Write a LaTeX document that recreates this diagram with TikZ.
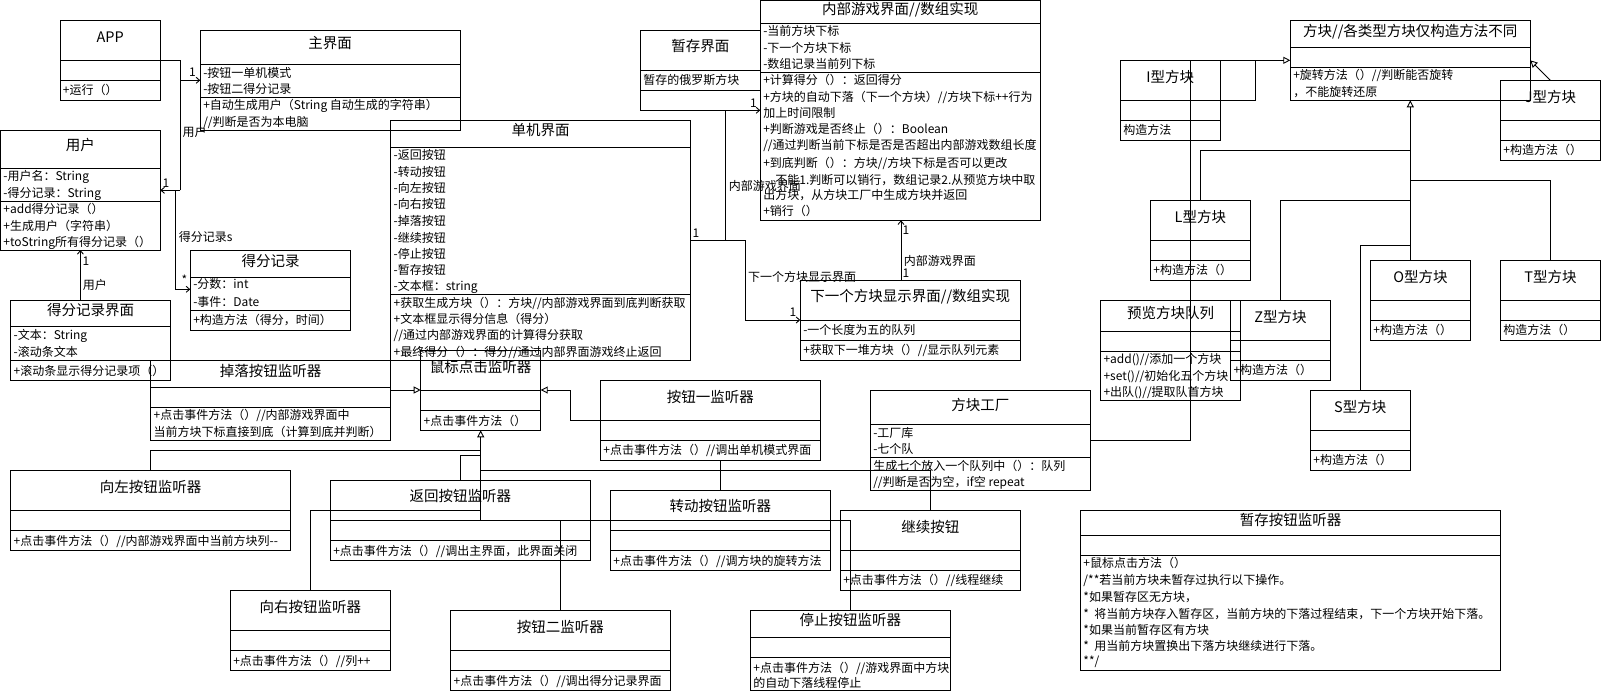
\documentclass[tikz,border=0pt]{standalone}
\usepackage{fontspec}
\setmainfont{Noto Sans CJK SC}
\usetikzlibrary{arrows.meta}

% class box: name, left, top, right, bottom, title line, attribute line
\newcommand\umlbox[7]{%
  \node[box, minimum width={(#4-#2)*1pt}, minimum height={(#5-#3)*1pt}, anchor=north west] (#1) at (#2,#3) {};
  \draw (#2,#6) -- (#4,#6) (#2,#7) -- (#4,#7);
}
% class name, centred on x, glyph centre at y
\newcommand\ttext[3]{\node[ttl, anchor=base] at (#1,{#2+5.5}) {#3};}
% one member row, box left edge x, glyph centre at y
\newcommand\mrow[3]{\node[bod, anchor=base west] at ({#1+2.5},{#2+4.5}) {#3};}
% free label centred at x,y
\newcommand\lbl[3]{\node[bod, anchor=base] at (#1,{#2+4.5}) {#3};}
\newcommand\lblw[3]{\node[bod, anchor=base west] at (#1,{#2+4.5}) {#3};}

\begin{document}
\begin{tikzpicture}[x=1pt, y=-1pt, line width=0.9pt,
  box/.style={draw, rectangle, inner sep=0pt, outer sep=0pt},
  ttl/.style={font=\fontsize{14.5}{17}\selectfont, inner sep=0pt},
  bod/.style={font=\fontsize{12}{14}\selectfont, inner sep=0pt},
  assoc/.style={-{Straight Barb[length=3.5pt,width=6pt]}},
  gen/.style={-{Triangle[open,length=7pt,width=7pt]}}]
\useasboundingbox (0,0) rectangle (1601,691);

% ---------------- application and menus ----------------
\umlbox{app}{60}{20.3}{160.3}{100}{60.3}{80.3}
\ttext{110.2}{37}{APP}
\mrow{60}{90}{+运行（）}

\umlbox{mainui}{200.3}{30.3}{460}{130}{64.3}{97.7}
\ttext{330}{43.3}{主界面}
\mrow{200.3}{72.7}{-按钮一单机模式}
\mrow{200.3}{89.3}{-按钮二得分记录}
\mrow{200.3}{105}{+自动生成用户（String 自动生成的字符串）}
\mrow{200.3}{122.3}{//判断是否为本电脑}

\umlbox{user}{0.5}{130.3}{160.3}{250}{168.3}{201.3}
\ttext{80.4}{145}{用户}
\mrow{0.5}{175.7}{-用户名：String}
\mrow{0.5}{192.7}{-得分记录：String}
\mrow{0.5}{209}{+add得分记录（）}
\mrow{0.5}{225.7}{+生成用户（字符串）}
\mrow{0.5}{242}{+toString所有得分记录（）}

\umlbox{scoreui}{10.7}{300.3}{170.3}{380.3}{326.3}{360.3}
\ttext{90.5}{310}{得分记录界面}
\mrow{10.7}{335}{-文本：String}
\mrow{10.7}{351.7}{-滚动条文本}
\mrow{10.7}{371}{+滚动条显示得分记录项（）}

\umlbox{scorerec}{190.3}{250.3}{350.7}{330.3}{277.3}{310.3}
\ttext{270.5}{260.7}{得分记录}
\mrow{190.3}{284.3}{-分数：int}
\mrow{190.3}{301.7}{-事件：Date}
\mrow{190.3}{320}{+构造方法（得分，时间）}

% ---------------- single player screen ----------------
\umlbox{single}{390.7}{120.3}{690.7}{360}{147.3}{294.3}
\ttext{540.7}{130}{单机界面}
\mrow{390.7}{155}{-返回按钮}
\mrow{390.7}{171.7}{-转动按钮}
\mrow{390.7}{188.3}{-向左按钮}
\mrow{390.7}{204.3}{-向右按钮}
\mrow{390.7}{221}{-掉落按钮}
\mrow{390.7}{237.7}{-继续按钮}
\mrow{390.7}{254}{-停止按钮}
\mrow{390.7}{270.3}{-暂存按钮}
\mrow{390.7}{285.7}{-文本框：string}
\mrow{390.7}{302.7}{+获取生成方块（）：方块//内部游戏界面到底判断获取}
\mrow{390.7}{319}{+文本框显示得分信息（得分）}
\mrow{390.7}{335.3}{//通过内部游戏界面的计算得分获取}
\mrow{390.7}{352.3}{+最终得分（）：得分//通过内部界面游戏终止返回}

\umlbox{holdui}{640.3}{30.3}{760.3}{110.3}{70.3}{90.3}
\ttext{700.3}{45.7}{暂存界面}
\mrow{640.3}{80.3}{暂存的俄罗斯方块}

\umlbox{inner}{760.3}{0.5}{1040.3}{220.3}{23.7}{72}
\ttext{900.3}{9}{内部游戏界面//数组实现}
\mrow{760.3}{31}{-当前方块下标}
\mrow{760.3}{48.3}{-下一个方块下标}
\mrow{760.3}{64.3}{-数组记录当前列下标}
\mrow{760.3}{80.3}{+计算得分（）：返回得分}
\mrow{760.3}{97}{+方块的自动下落（下一个方块）//方块下标++行为}
\mrow{760.3}{113.3}{加上时间限制}
\mrow{760.3}{129.3}{+判断游戏是否终止（）：Boolean}
\mrow{760.3}{145.3}{//通过判断当前下标是否是否超出内部游戏数组长度}
\mrow{760.3}{163}{+到底判断（）：方块//方块下标是否可以更改}
\mrow{772.5}{179.7}{不能1.判断可以销行，数组记录2.从预览方块中取}
\mrow{760.3}{195}{出方块，从方块工厂中生成方块并返回}
\mrow{760.3}{211.3}{+销行（）}

\umlbox{nextui}{800.3}{280.3}{1020.3}{360.7}{320.3}{340.7}
\ttext{910.3}{295.7}{下一个方块显示界面//数组实现}
\mrow{800.3}{330}{-一个长度为五的队列}
\mrow{800.3}{350}{+获取下一堆方块（）//显示队列元素}

% ---------------- listeners ----------------
\umlbox{lsndrop}{150.7}{360.7}{390.3}{440}{387}{407.3}
\ttext{270.5}{370.7}{掉落按钮监听器}
\mrow{150.7}{415}{+点击事件方法（）//内部游戏界面中}
\mrow{150.7}{432.3}{当前方块下标直接到底（计算到底并判断）}

\umlbox{mouse}{420.7}{350}{540.7}{430.3}{390}{410.7}
\ttext{480.7}{366.7}{鼠标点击监听器}
\mrow{420.7}{420.5}{+点击事件方法（）}

\umlbox{lsnbtn1}{600.4}{380.3}{820.4}{460}{420.3}{440.3}
\ttext{710.4}{396.7}{按钮一监听器}
\mrow{600.4}{450}{+点击事件方法（）//调出单机模式界面}

\umlbox{lsnleft}{10.7}{470.3}{290.3}{550.3}{510.3}{530.3}
\ttext{150.5}{486.7}{向左按钮监听器}
\mrow{10.7}{540.7}{+点击事件方法（）//内部游戏界面中当前方块列-{}-}

\umlbox{lsnback}{330.3}{480.3}{590.4}{560.3}{520.3}{540.3}
\ttext{460.4}{496}{返回按钮监听器}
\mrow{330.3}{550.5}{+点击事件方法（）//调出主界面，此界面关闭}

\umlbox{lsnrot}{610.5}{490.3}{830}{570.3}{530.3}{550.3}
\ttext{720.3}{505.7}{转动按钮监听器}
\mrow{610.5}{560.5}{+点击事件方法（）//调方块的旋转方法}

\umlbox{lsncont}{840.3}{510.3}{1020.3}{590.3}{550.3}{570.3}
\ttext{930.3}{526.7}{继续按钮}
\mrow{840.3}{580.3}{+点击事件方法（）//线程继续}

\umlbox{lsnright}{230.3}{590.3}{390.3}{670.3}{630.3}{650.3}
\ttext{310.3}{606.7}{向右按钮监听器}
\mrow{230.3}{660.7}{+点击事件方法（）//列++}

\umlbox{lsnbtn2}{450.7}{610.3}{670}{690.3}{650.3}{670.3}
\ttext{560.4}{627.3}{按钮二监听器}
\mrow{450.7}{681.3}{+点击事件方法（）//调出得分记录界面}

\umlbox{lsnstop}{750.4}{610.3}{950.4}{690}{637.7}{657.7}
\ttext{850.4}{620}{停止按钮监听器}
\mrow{750.4}{668}{+点击事件方法（）//游戏界面中方块}
\mrow{750.4}{683.3}{的自动下落线程停止}

\umlbox{lsnhold}{1080.5}{510.3}{1500.4}{670.3}{535.3}{555.3}
\ttext{1290.5}{520}{暂存按钮监听器}
\mrow{1080.5}{563}{+鼠标点击方法（）}
\mrow{1080.5}{580}{/**若当前方块未暂存过执行以下操作。}
\mrow{1080.5}{597}{*如果暂存区无方块，}
\mrow{1080.5}{614.3}{*\ \ 将当前方块存入暂存区，当前方块的下落过程结束，下一个方块开始下落。}
\mrow{1080.5}{630.3}{*如果当前暂存区有方块}
\mrow{1080.5}{645.7}{*\ \ 用当前方块置换出下落方块继续进行下落。}
\mrow{1080.5}{660.7}{**/}

% ---------------- blocks ----------------
\umlbox{factory}{870.3}{390.3}{1090.3}{490.3}{424}{457.7}
\ttext{980.3}{405}{方块工厂}
\mrow{870.3}{433.3}{-工厂库}
\mrow{870.3}{449.3}{-七个队}
\mrow{870.3}{465.7}{生成七个放入一个队列中（）：队列}
\mrow{870.3}{481.7}{//判断是否为空，if空 repeat}

\umlbox{block}{1290.3}{20.3}{1530.3}{100.3}{47.7}{67.7}
\ttext{1410.3}{30.7}{方块//各类型方块仅构造方法不同}
\mrow{1290.3}{75.3}{+旋转方法（）//判断能否旋转}
\mrow{1290.3}{92.3}{，不能旋转还原}

\umlbox{bI}{1120.3}{60.3}{1220.4}{140.3}{100.3}{120.3}
\ttext{1170.3}{77.3}{I型方块}
\mrow{1120.3}{130}{构造方法}

\umlbox{bJ}{1500.5}{80.3}{1600.3}{160.3}{120.3}{140.3}
\ttext{1550.4}{96.7}{J型方块}
\mrow{1500.5}{150}{+构造方法（）}

\umlbox{bL}{1150.5}{200.3}{1250.3}{280.3}{240.3}{260.3}
\ttext{1200.4}{216.7}{L型方块}
\mrow{1150.5}{270}{+构造方法（）}

\umlbox{bO}{1370.5}{260.3}{1470.2}{340.3}{300.3}{320.3}
\ttext{1420.4}{276.7}{O型方块}
\mrow{1370.5}{330}{+构造方法（）}

\umlbox{bT}{1500.5}{260.3}{1600.3}{340.3}{300.3}{320.3}
\ttext{1550.4}{276.7}{T型方块}
\mrow{1500.5}{330}{构造方法（）}

\umlbox{bZ}{1230.6}{300.3}{1330.4}{380.3}{340.3}{360.3}
\ttext{1280.5}{316.7}{Z型方块}
\mrow{1230.6}{370}{+构造方法（）}

\umlbox{preview}{1100.6}{300.3}{1240.4}{400.3}{331.3}{351.3}
\ttext{1170.5}{312.7}{预览方块队列}
\mrow{1100.6}{359}{+add()//添加一个方块}
\mrow{1100.6}{375.7}{+set()//初始化五个方块}
\mrow{1100.6}{392}{+出队()//提取队首方块}

\umlbox{bS}{1310.4}{390.3}{1410.2}{470.3}{430.3}{450.3}
\ttext{1360.3}{406.7}{S型方块}
\mrow{1310.4}{460}{+构造方法（）}

% ---------------- associations ----------------
\coordinate (ja) at (180.3,60.3);
\coordinate (jb) at (180.3,190.3);
\coordinate (jc) at (180.3,80.3);
\draw (app.east |- ja) -- (ja) -- (jb);
\draw[assoc] (jb) -- (user.east |- jb);
\draw[assoc] (jc) -- (mainui.west |- jc);
\lbl{192.5}{72}{1}
\lbl{166}{182.5}{1}
\lbl{194.5}{132}{用户}

\coordinate (jd) at (175,190.3);
\coordinate (je) at (175,289.3);
\draw[assoc] (jd) -- (je) -- (scorerec.west |- je);
\lblw{178.3}{237.3}{得分记录s}
\lbl{184.5}{280}{*}

\draw[assoc] (scoreui.north -| user.south) -- (user.south);
\lbl{86}{261}{1}
\lblw{82.3}{285}{用户}

\coordinate (jg) at (725.3,240);
\coordinate (jh) at (725.3,110.3);
\coordinate (ji) at (745.3,240);
\coordinate (jj) at (745.3,320);
\draw (single.east |- jg) -- (ji);
\draw[assoc] (jg) -- (jh) -- (inner.west |- jh);
\draw[assoc] (ji) -- (jj) -- (nextui.west |- jj);
\lbl{696}{232.5}{1}
\lbl{753.5}{102.7}{1}
\lblw{728.3}{185.7}{内部游戏界面}
\lblw{747.7}{276.7}{下一个方块显示界面}
\lbl{793}{312.3}{1}

\coordinate (jk) at (901,0);
\draw[assoc] (nextui.north -| jk) -- (inner.south -| jk);
\lbl{906}{230}{1}
\lblw{903.3}{261}{内部游戏界面}
\lbl{906}{273.3}{1}

% ---------------- listener generalisations ----------------
\coordinate (jl) at (0,390);
\draw[gen] (lsndrop.east |- jl) -- (mouse.west |- jl);
\coordinate (jm) at (570.4,420.3);
\coordinate (jn) at (570.4,390);
\draw[gen] (lsnbtn1.west |- jm) -- (jm) -- (jn) -- (mouse.east |- jn);

\coordinate (ya) at (0,450);
\coordinate (yb) at (0,455.7);
\coordinate (yc) at (0,510.3);
\coordinate (yd) at (0,520.3);
\coordinate (ye) at (0,470);
\draw[gen] (mouse.south |- yd) -- (mouse.south);
\draw (lsnleft.north) |- (mouse.south |- ya);
\draw (lsnback.north) |- (mouse.south |- yb);
\draw (lsnright.north) |- (mouse.south |- yc);
\draw (lsnbtn2.north) |- (mouse.south |- yd);
\draw (lsnstop.north) |- (mouse.south |- yd);
\draw (lsncont.north) |- (mouse.south |- ye);
\draw (lsnrot.north) -- (lsnrot.north |- lsnbtn1.south);

% ---------------- block generalisations ----------------
\coordinate (yf) at (0,150.3);
\coordinate (yg) at (0,180.3);
\coordinate (yh) at (0,200.3);
\coordinate (yi) at (0,245.3);
\coordinate (yj) at (0,60.3);
\draw[gen] (bO.north -| block.south) -- (block.south);
\draw (bL.north) |- (block.south |- yf);
\draw (bT.north) |- (block.south |- yg);
\draw (bZ.north) |- (block.south |- yh);
\draw (bS.north) |- (block.south |- yi);
\draw[gen] (bJ.north) -- (block.east |- yj);
\coordinate (ik) at (1255.2,100.3);
\coordinate (il) at (1255.2,60.3);
\draw[gen] (bI.east |- ik) -- (ik) -- (il) -- (block.west |- il);
\coordinate (im) at (1190.5,440.3);
\coordinate (in) at (1190.5,60.3);
\draw (factory.east |- im) -- (im) -- (in) -- (il);
\end{tikzpicture}
\end{document}
